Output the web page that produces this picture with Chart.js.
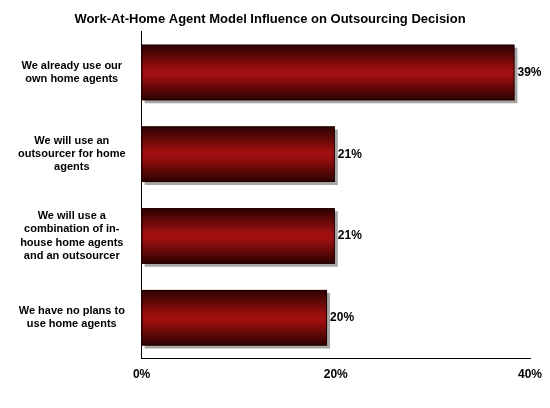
<!DOCTYPE html>
<html><head><meta charset="utf-8">
<script src="https://cdn.jsdelivr.net/npm/chart.js@4"></script>
<style>html,body{margin:0;padding:0;background:#fff}#w{width:550px;height:408px}</style>
</head><body><div id="w"><canvas id="c"></canvas></div>
<script>
const categories = [
  ["We already use our","own home agents"],
  ["We will use an","outsourcer for home","agents"],
  ["We will use a","combination of in-","house home agents","and an outsourcer"],
  ["We have no plans to","use home agents"]
];
const values = [38.4, 19.9, 19.9, 19.1];
const valueLabels = ["39%", "21%", "21%", "20%"];
const tickLabels = {0:"0%",20:"20%",40:"40%"};

const gradPlugin = {
  id:'grad',
  afterDatasetsDraw(chart){
    const c = chart.ctx;
    c.save();
    chart.getDatasetMeta(0).data.forEach((el,i)=>{
      const top = el.y - el.height/2, w = el.x - el.base, h = el.height;
      c.fillStyle = 'rgba(0,0,0,0.35)';
      c.fillRect(el.base+3, top+3, w, h);
      const g = c.createLinearGradient(0, top, 0, top+h);
      g.addColorStop(0, '#2a0000');
      g.addColorStop(0.45, '#a01010');
      g.addColorStop(0.55, '#a01010');
      g.addColorStop(1, '#2a0000');
      c.fillStyle = g;
      c.fillRect(el.base, top, w, h);
      c.strokeStyle = '#200'; c.lineWidth = 1;
      c.strokeRect(el.base+0.5, top+0.5, w-1, h-1);
    });
    c.font = 'bold 12px Arial, "Liberation Sans"';
    c.fillStyle = '#000'; c.textBaseline = 'middle';
    chart.getDatasetMeta(0).data.forEach((el,i)=>{
      c.fillText(valueLabels[i], el.x + 3, el.y);
    });
    c.restore();
  }
};

new Chart(document.getElementById('c'), {
  type:'bar',
  data:{labels:categories, datasets:[{data:values, backgroundColor:'rgba(0,0,0,0)', borderWidth:0, barPercentage:0.68, categoryPercentage:1}]},
  options:{
    indexAxis:'y', responsive:true, maintainAspectRatio:false, animation:false,
    layout:{padding:{left:10,right:20,top:2,bottom:22}},
    plugins:{legend:{display:false}, tooltip:{enabled:false},
      title:{display:true, text:'Work-At-Home Agent Model Influence on Outsourcing Decision', color:'#000',
        font:{family:'Arial, "Liberation Sans"', size:13, weight:'bold'}, padding:{top:10,bottom:4}}},
    scales:{
      x:{min:0,max:40, afterBuildTicks(a){a.ticks=[{value:0},{value:20},{value:40}];},
        grid:{display:false, drawOnChartArea:false, drawTicks:true, tickLength:5, color:'#000'},
        border:{color:'#000', width:1},
        ticks:{color:'#000', font:{family:'Arial, "Liberation Sans"', size:12, weight:'bold'}, callback:v=>tickLabels[v], padding:4}},
      y:{grid:{display:false}, border:{color:'#000', width:1},
        ticks:{color:'#000', font:{family:'Arial, "Liberation Sans"', size:11, weight:'bold'}, padding:8, crossAlign:'center'}}
    }
  },
  plugins:[gradPlugin]
});
</script></body></html>
